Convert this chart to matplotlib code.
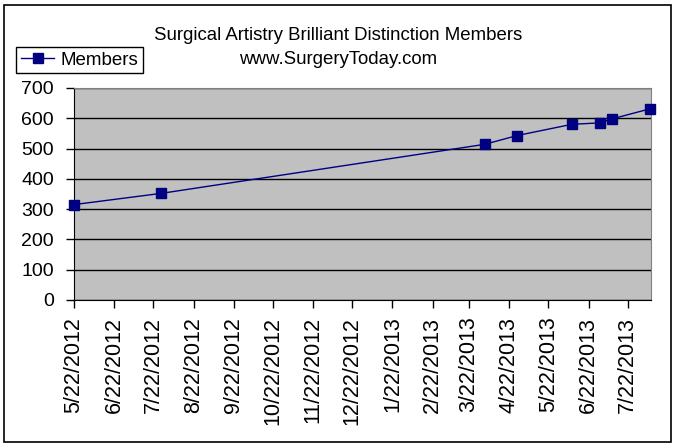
import matplotlib
matplotlib.use('Agg')
import matplotlib.pyplot as plt
import matplotlib.dates as mdates
from matplotlib.patches import Rectangle
from datetime import date

plt.rcParams['font.family'] = ['Liberation Sans', 'DejaVu Sans']

dates = [date(2012, 5, 22), date(2012, 7, 28), date(2013, 4, 3), date(2013, 4, 28),
         date(2013, 6, 9), date(2013, 7, 1), date(2013, 7, 10), date(2013, 8, 8)]
members = [315, 352, 514, 543, 580, 585, 598, 631]

tick_dates = [date(2012, m, 22) for m in range(5, 13)] + [date(2013, m, 22) for m in range(1, 8)]
tick_labels = [f'{d.month}/{d.day}/{d.year}' for d in tick_dates]

fig = plt.figure(figsize=(6.76, 4.48), dpi=100)
fig.patch.set_facecolor('white')
fig.patches.append(Rectangle((4 / 676, 6 / 448), 667 / 676, 437 / 448, transform=fig.transFigure,
                             fill=False, edgecolor='black', linewidth=1.2))

ax = fig.add_axes([74 / 676, 1 - 300 / 448, 577 / 676, 212 / 448])
ax.set_facecolor('#C0C0C0')
ax.plot(mdates.date2num(dates), members, color='#000080', linewidth=1,
        marker='s', markersize=6.5, label='Members', clip_on=False, zorder=3)

ax.set_ylim(0, 700)
ax.set_yticks(range(0, 701, 100))
ax.set_xlim(mdates.date2num(date(2012, 5, 22)), mdates.date2num(date(2013, 8, 9)))
ax.set_xticks(mdates.date2num(tick_dates))
ax.set_xticklabels(tick_labels, rotation=90, fontsize=15.5)
ax.tick_params(axis='y', labelsize=14, length=6, width=1, color='black', pad=8.5)
ax.tick_params(axis='x', length=6, width=1, color='black', pad=6)
ax.grid(axis='y', color='black', linewidth=1)
ax.set_axisbelow(True)

for s in ['top', 'right']:
    ax.spines[s].set_color('#808080')
for s in ['left', 'bottom']:
    ax.spines[s].set_color('black')

fig.text(338 / 676, 1 - 35 / 448, 'Surgical Artistry Brilliant Distinction Members',
         ha='center', va='center', fontsize=13.4)
fig.text(338 / 676, 1 - 59 / 448, 'www.SurgeryToday.com',
         ha='center', va='center', fontsize=13.4)

leg = fig.legend(loc='upper left', bbox_to_anchor=(16 / 676, 1 - 47 / 448), fontsize=13.5,
                 frameon=True, fancybox=False, edgecolor='black', framealpha=1,
                 borderpad=0.25, handlelength=1.8, handletextpad=0.3, borderaxespad=0)
leg.get_frame().set_linewidth(1)

fig.savefig('out.png', dpi=100)
